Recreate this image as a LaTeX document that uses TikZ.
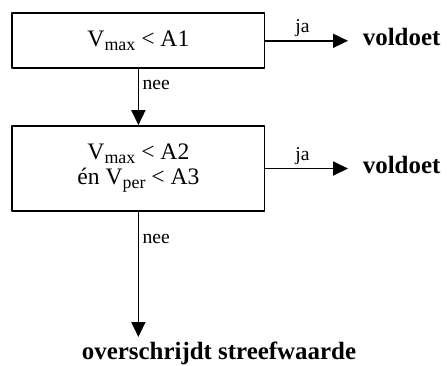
\documentclass[tikz,border=0pt]{standalone}
\usepackage{fontspec}
\setmainfont{Liberation Serif}
\usetikzlibrary{arrows.meta}
\newcommand{\low}[1]{\raisebox{-4bp}{\fontsize{18}{18}\selectfont #1}}
\begin{document}
\begin{tikzpicture}[x=1bp, y=-1bp, line join=round, line width=1.8bp,
  >={Triangle[length=15bp,width=14bp]},
  test/.style={draw, minimum width=252bp, font=\fontsize{23.7}{25}\selectfont, align=center},
  lbl/.style={font=\fontsize{19.7}{22}\selectfont},
  outcome/.style={font=\fontsize{25}{28}\selectfont\bfseries, inner xsep=14bp}]
\useasboundingbox (0,0) rectangle (448,365);
\path
 (138.4,40.8) coordinate (P1)
 (138.4,168.5) coordinate (P2)
 (348,45) coordinate (Q1)
 (348,173) coordinate (Q2)
 (219,337) coordinate (R)
 ;
\node[test, minimum height=55bp] (c1) at (P1) {V\low{max} < A1};
\node[test, minimum height=85bp] (c2) at (P2) {V\low{max} < A2\\én V\low{per} < A3};
\foreach \n/\p in {1/Q1,2/Q2}
  {\node[outcome, anchor=base west] (ok\n) at (\p) {voldoet};
   \draw[->] (c\n.east) -- node[lbl, above, pos=0.45]{ja} (c\n.east -| ok\n.west);}
\node[outcome, anchor=north, inner sep=4.5bp] (fail) at (R) {overschrijdt streefwaarde};
\draw[->] (c1) -- node[lbl, right, pos=0.28]{nee} (c2);
\draw[->] (c2) -- node[lbl, right, pos=0.22]{nee} (c2 |- fail.north);
\end{tikzpicture}
\end{document}
